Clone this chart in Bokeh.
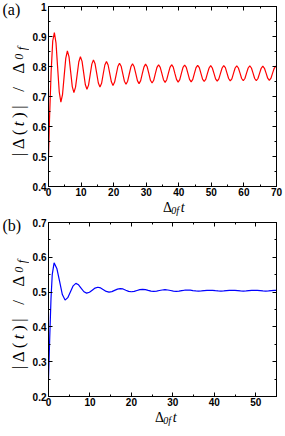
import math
from bokeh.plotting import figure
from bokeh.models import Range1d, FixedTicker, LinearAxis, CustomJSTickFormatter, Label
from bokeh.layouts import column, row
from bokeh.embed import file_html
from bokeh.resources import INLINE

# ---------------- data: panel (a) ----------------
t_a = [0.0, 0.3, 0.8, 1.3,
       1.8, 2.3, 2.8, 3.3, 3.8, 4.3, 4.8, 5.3,
       5.8, 6.3, 6.8, 7.3, 7.8, 8.3, 8.8, 9.3,
       9.8, 10.3, 10.8, 11.3, 11.8, 12.3, 12.8, 13.3,
       13.8, 14.3, 14.8, 15.3, 15.8, 16.3, 16.8, 17.3,
       17.8, 18.3, 18.8, 19.3, 19.8, 20.3, 20.8, 21.3,
       21.8, 22.3, 22.8, 23.3, 23.8, 24.3, 24.8, 25.3,
       25.8, 26.3, 26.8, 27.3, 27.8, 28.3, 28.8, 29.3,
       29.8, 30.3, 30.8, 31.3, 31.8, 32.3, 32.8, 33.3,
       33.8, 34.3, 34.8, 35.3, 35.8, 36.3, 36.8, 37.3,
       37.8, 38.3, 38.8, 39.3, 39.8, 40.3, 40.8, 41.3,
       41.8, 42.3, 42.8, 43.3, 43.8, 44.3, 44.8, 45.3,
       45.8, 46.3, 46.8, 47.3, 47.8, 48.3, 48.8, 49.3,
       49.8, 50.3, 50.8, 51.3, 51.8, 52.3, 52.8, 53.3,
       53.8, 54.3, 54.8, 55.3, 55.8, 56.3, 56.8, 57.3,
       57.8, 58.3, 58.8, 59.3, 59.8, 60.3, 60.8, 61.3,
       61.8, 62.3, 62.8, 63.3, 63.8, 64.3, 64.8, 65.3,
       65.8, 66.3, 66.8, 67.3, 67.8, 68.3, 68.8, 69.3,
       69.8, 70.0]
gap_a = [0.500, 0.620, 0.780, 0.885,
         0.913, 0.879, 0.797, 0.715, 0.681, 0.706, 0.767, 0.827,
         0.852, 0.832, 0.783, 0.733, 0.713, 0.731, 0.773, 0.815,
         0.833, 0.817, 0.779, 0.740, 0.724, 0.738, 0.773, 0.808,
         0.822, 0.809, 0.777, 0.745, 0.732, 0.744, 0.775, 0.805,
         0.817, 0.805, 0.777, 0.749, 0.737, 0.748, 0.774, 0.800,
         0.811, 0.801, 0.776, 0.751, 0.741, 0.751, 0.775, 0.799,
         0.809, 0.799, 0.776, 0.753, 0.743, 0.753, 0.776, 0.798,
         0.808, 0.799, 0.777, 0.754, 0.745, 0.754, 0.776, 0.797,
         0.806, 0.797, 0.777, 0.756, 0.747, 0.756, 0.777, 0.797,
         0.806, 0.798, 0.777, 0.757, 0.748, 0.756, 0.777, 0.797,
         0.805, 0.797, 0.777, 0.757, 0.749, 0.757, 0.777, 0.796,
         0.804, 0.796, 0.777, 0.758, 0.750, 0.758, 0.777, 0.795,
         0.803, 0.795, 0.777, 0.759, 0.751, 0.759, 0.777, 0.795,
         0.803, 0.796, 0.778, 0.760, 0.752, 0.759, 0.777, 0.795,
         0.802, 0.795, 0.778, 0.760, 0.753, 0.760, 0.778, 0.795,
         0.802, 0.795, 0.778, 0.760, 0.753, 0.760, 0.777, 0.794,
         0.801, 0.794, 0.778, 0.761, 0.754, 0.761, 0.778, 0.794,
         0.801, 0.800]

# ---------------- data: panel (b) ----------------
t_b = [0.0, 0.3, 0.6, 0.9,
       1.35, 2.01, 2.68, 3.34, 4.0, 4.65, 5.3, 5.95,
       6.6, 7.25, 7.9, 8.55, 9.2, 9.88, 10.55, 11.23,
       11.9, 12.58, 13.25, 13.93, 14.6, 15.28, 15.95, 16.63,
       17.3, 17.98, 18.65, 19.33, 20.0, 20.68, 21.35, 22.03,
       22.7, 23.38, 24.05, 24.73, 25.4, 26.08, 26.75, 27.43,
       28.1, 28.78, 29.45, 30.13, 30.8, 31.48, 32.15, 32.83,
       33.5, 34.18, 34.85, 35.53, 36.2, 36.88, 37.55, 38.23,
       38.9, 39.58, 40.25, 40.93, 41.6, 42.28, 42.95, 43.63,
       44.3, 44.98, 45.65, 46.33, 47.0, 47.68, 48.35, 49.03,
       49.7, 50.38, 51.05, 51.73, 52.4, 53.08, 53.75, 54.43,
       55.0]
gap_b = [0.250, 0.370, 0.480, 0.550,
         0.584, 0.568, 0.531, 0.493, 0.477, 0.484, 0.501, 0.518,
         0.525, 0.521, 0.511, 0.501, 0.497, 0.4995, 0.5055, 0.5115,
         0.514, 0.512, 0.507, 0.502, 0.500, 0.5015, 0.505, 0.5085,
         0.510, 0.509, 0.5055, 0.502, 0.501, 0.502, 0.5045, 0.507,
         0.508, 0.507, 0.505, 0.503, 0.502, 0.503, 0.5045, 0.506,
         0.507, 0.506, 0.5045, 0.503, 0.502, 0.5026, 0.504, 0.5054,
         0.506, 0.5056, 0.5045, 0.5034, 0.503, 0.5033, 0.504, 0.5047,
         0.505, 0.5047, 0.504, 0.5033, 0.503, 0.5033, 0.504, 0.5047,
         0.505, 0.5047, 0.504, 0.5033, 0.503, 0.5033, 0.504, 0.5047,
         0.505, 0.5047, 0.504, 0.5033, 0.503, 0.5033, 0.504, 0.5047,
         0.505]

# ---------------- ticks ----------------
xticks_a = [0, 10, 20, 30, 40, 50, 60, 70]
xminor_a = [5, 15, 25, 35, 45, 55, 65]
yticks_a = [0.4, 0.5, 0.6, 0.7, 0.8, 0.9, 1.0]
ylabels_a = ["0.4", "0.5", "0.6", "0.7", "0.8", "0.9", "1"]
yminor_a = [0.45, 0.55, 0.65, 0.75, 0.85, 0.95]

xticks_b = [0, 10, 20, 30, 40, 50]
xminor_b = [5, 15, 25, 35, 45, 55]
yticks_b = [0.2, 0.3, 0.4, 0.5, 0.6, 0.7]
ylabels_b = ["0.2", "0.3", "0.4", "0.5", "0.6", "0.7"]
yminor_b = [0.25, 0.35, 0.45, 0.55, 0.65]

SERIF = "Liberation Serif"
SANS = "Liberation Sans"

LEFT_W = 29      # strip holding the y title and the panel tag
MAIN_W = 255     # plotting figure
B_LEFT = 17
FRAME_W = 230
B_BOTTOM = 13
XT_H = 17        # strip holding the x title


def style_axis(ax, labels=True):
    ax.major_tick_in = 4
    ax.major_tick_out = 0
    ax.minor_tick_in = 2
    ax.minor_tick_out = 0
    ax.axis_line_color = "black"
    ax.major_tick_line_color = "black"
    ax.minor_tick_line_color = "black"
    ax.axis_line_width = 1
    ax.major_label_text_font = SANS
    ax.major_label_text_font_style = "bold"
    ax.major_label_text_color = "black"
    ax.major_label_text_font_size = "10px"
    ax.major_label_standoff = 2
    if not labels:
        ax.formatter = CustomJSTickFormatter(code="return ''")
        ax.major_label_text_font_size = "0px"
        ax.major_label_standoff = 0


def blank_fig(w, h):
    f = figure(width=w, height=h, x_range=Range1d(0, w), y_range=Range1d(0, h),
               output_backend="svg", toolbar_location=None,
               x_axis_location=None, y_axis_location=None,
               min_border=0, min_border_left=0, min_border_right=0,
               min_border_top=0, min_border_bottom=0)
    f.grid.visible = False
    f.outline_line_color = None
    f.background_fill_color = "white"
    f.border_fill_color = "white"
    return f


def make_panel(t, g, color, xr, yr, xt, xm, yt, yl, ym, tag,
               b_top, frame_h, xt_dx):
    main_h = b_top + frame_h + B_BOTTOM
    p = figure(width=MAIN_W, height=main_h, x_range=Range1d(*xr), y_range=Range1d(*yr),
               output_backend="svg", toolbar_location=None,
               min_border_left=B_LEFT, min_border_right=MAIN_W - B_LEFT - FRAME_W,
               min_border_top=b_top, min_border_bottom=B_BOTTOM)
    p.grid.visible = False
    p.outline_line_color = "black"
    p.background_fill_color = "white"
    p.border_fill_color = "white"

    p.xaxis.ticker = FixedTicker(ticks=xt, minor_ticks=xm)
    p.yaxis.ticker = FixedTicker(ticks=yt, minor_ticks=ym)
    p.yaxis.major_label_overrides = {v: s for v, s in zip(yt, yl)}
    style_axis(p.xaxis[0])
    style_axis(p.yaxis[0])
    p.xaxis[0].major_label_standoff = 1

    top = LinearAxis(ticker=FixedTicker(ticks=xt, minor_ticks=xm))
    right = LinearAxis(ticker=FixedTicker(ticks=yt, minor_ticks=ym))
    style_axis(top, labels=False)
    style_axis(right, labels=False)
    p.add_layout(top, "above")
    p.add_layout(right, "right")

    p.line(t, g, line_color=color, line_width=1.2)

    # x title strip: Δ_{0f} t  (text boxes anchored by their top)
    xt_fig = blank_fig(MAIN_W, XT_H)
    x0 = B_LEFT + FRAME_W / 2 + xt_dx
    ytop = XT_H - 0.3
    xt_fig.add_layout(Label(x=x0, y=ytop, text="Δ", text_font=SERIF,
                            text_font_size="14px", text_align="left",
                            text_baseline="top", text_color="black"))
    xt_fig.add_layout(Label(x=x0 + 9.2, y=ytop - 5.6, text="0f", text_font=SERIF,
                            text_font_size="10px", text_font_style="italic",
                            text_align="left", text_baseline="top",
                            text_color="black"))
    xt_fig.add_layout(Label(x=x0 + 20, y=ytop, text="t", text_font=SERIF,
                            text_font_size="14px", text_font_style="italic",
                            text_align="left", text_baseline="top",
                            text_color="black"))

    # left strip: panel tag and rotated y title |Δ(t)| / Δ_{0f}
    left_h = main_h + XT_H
    lf = blank_fig(LEFT_W, left_h)
    lf.add_layout(Label(x=2, y=left_h - 0.5, text=tag, text_font=SERIF,
                        text_font_size="16px", text_align="left",
                        text_baseline="top", text_color="black"))
    fs, fsub, gap, sp = 17.0, 12.0, 3.5, 10.0
    glyphs = [("|", "normal", fs, 0.200, 0),
              ("Δ", "normal", fs, 0.612, 0),
              ("(", "normal", fs, 0.333, 0),
              ("t", "italic", fs, 0.278, 0),
              (")", "normal", fs, 0.333, 0),
              ("|", "normal", fs, 0.200, sp),
              ("/", "normal", fs, 0.278, sp),
              ("Δ", "normal", fs, 0.612, 0),
              ("0", "italic", fsub, 0.500, 0),
              ("f", "italic", fsub, 0.278, 0)]
    total = sum(g_[2] * g_[3] + g_[4] for g_ in glyphs) + gap * (len(glyphs) - 1)
    base_x = 24.0            # x of the text baseline in the strip
    yc = left_h - b_top - frame_h / 2.0 - 5
    pos = yc - total / 2.0
    for txt, style, size, w, extra in glyphs:
        drop = 1.5 if size < fs else 0.0
        ax_ = base_x + drop - 0.891 * size   # top of the rotated text box
        lf.add_layout(Label(x=ax_, y=pos, text=txt, angle=math.pi / 2,
                            text_font=SERIF, text_font_size=f"{size:.0f}px",
                            text_font_style=style, text_align="left",
                            text_baseline="top", text_color="black"))
        pos += size * w + gap + extra

    return row(lf, column(p, xt_fig, spacing=0), spacing=0)


pa = make_panel(t_a, gap_a, "#ff0000", (0, 70), (0.4, 1.0),
                xticks_a, xminor_a, yticks_a, ylabels_a, yminor_a, "(a)",
                b_top=6, frame_h=180, xt_dx=-4)
pb = make_panel(t_b, gap_b, "#0000ff", (0, 55), (0.2, 0.7),
                xticks_b, xminor_b, yticks_b, ylabels_b, yminor_b, "(b)",
                b_top=6, frame_h=174, xt_dx=-13)

layout = column(pa, pb, spacing=0)
open("out.html", "w").write(file_html(layout, INLINE))
